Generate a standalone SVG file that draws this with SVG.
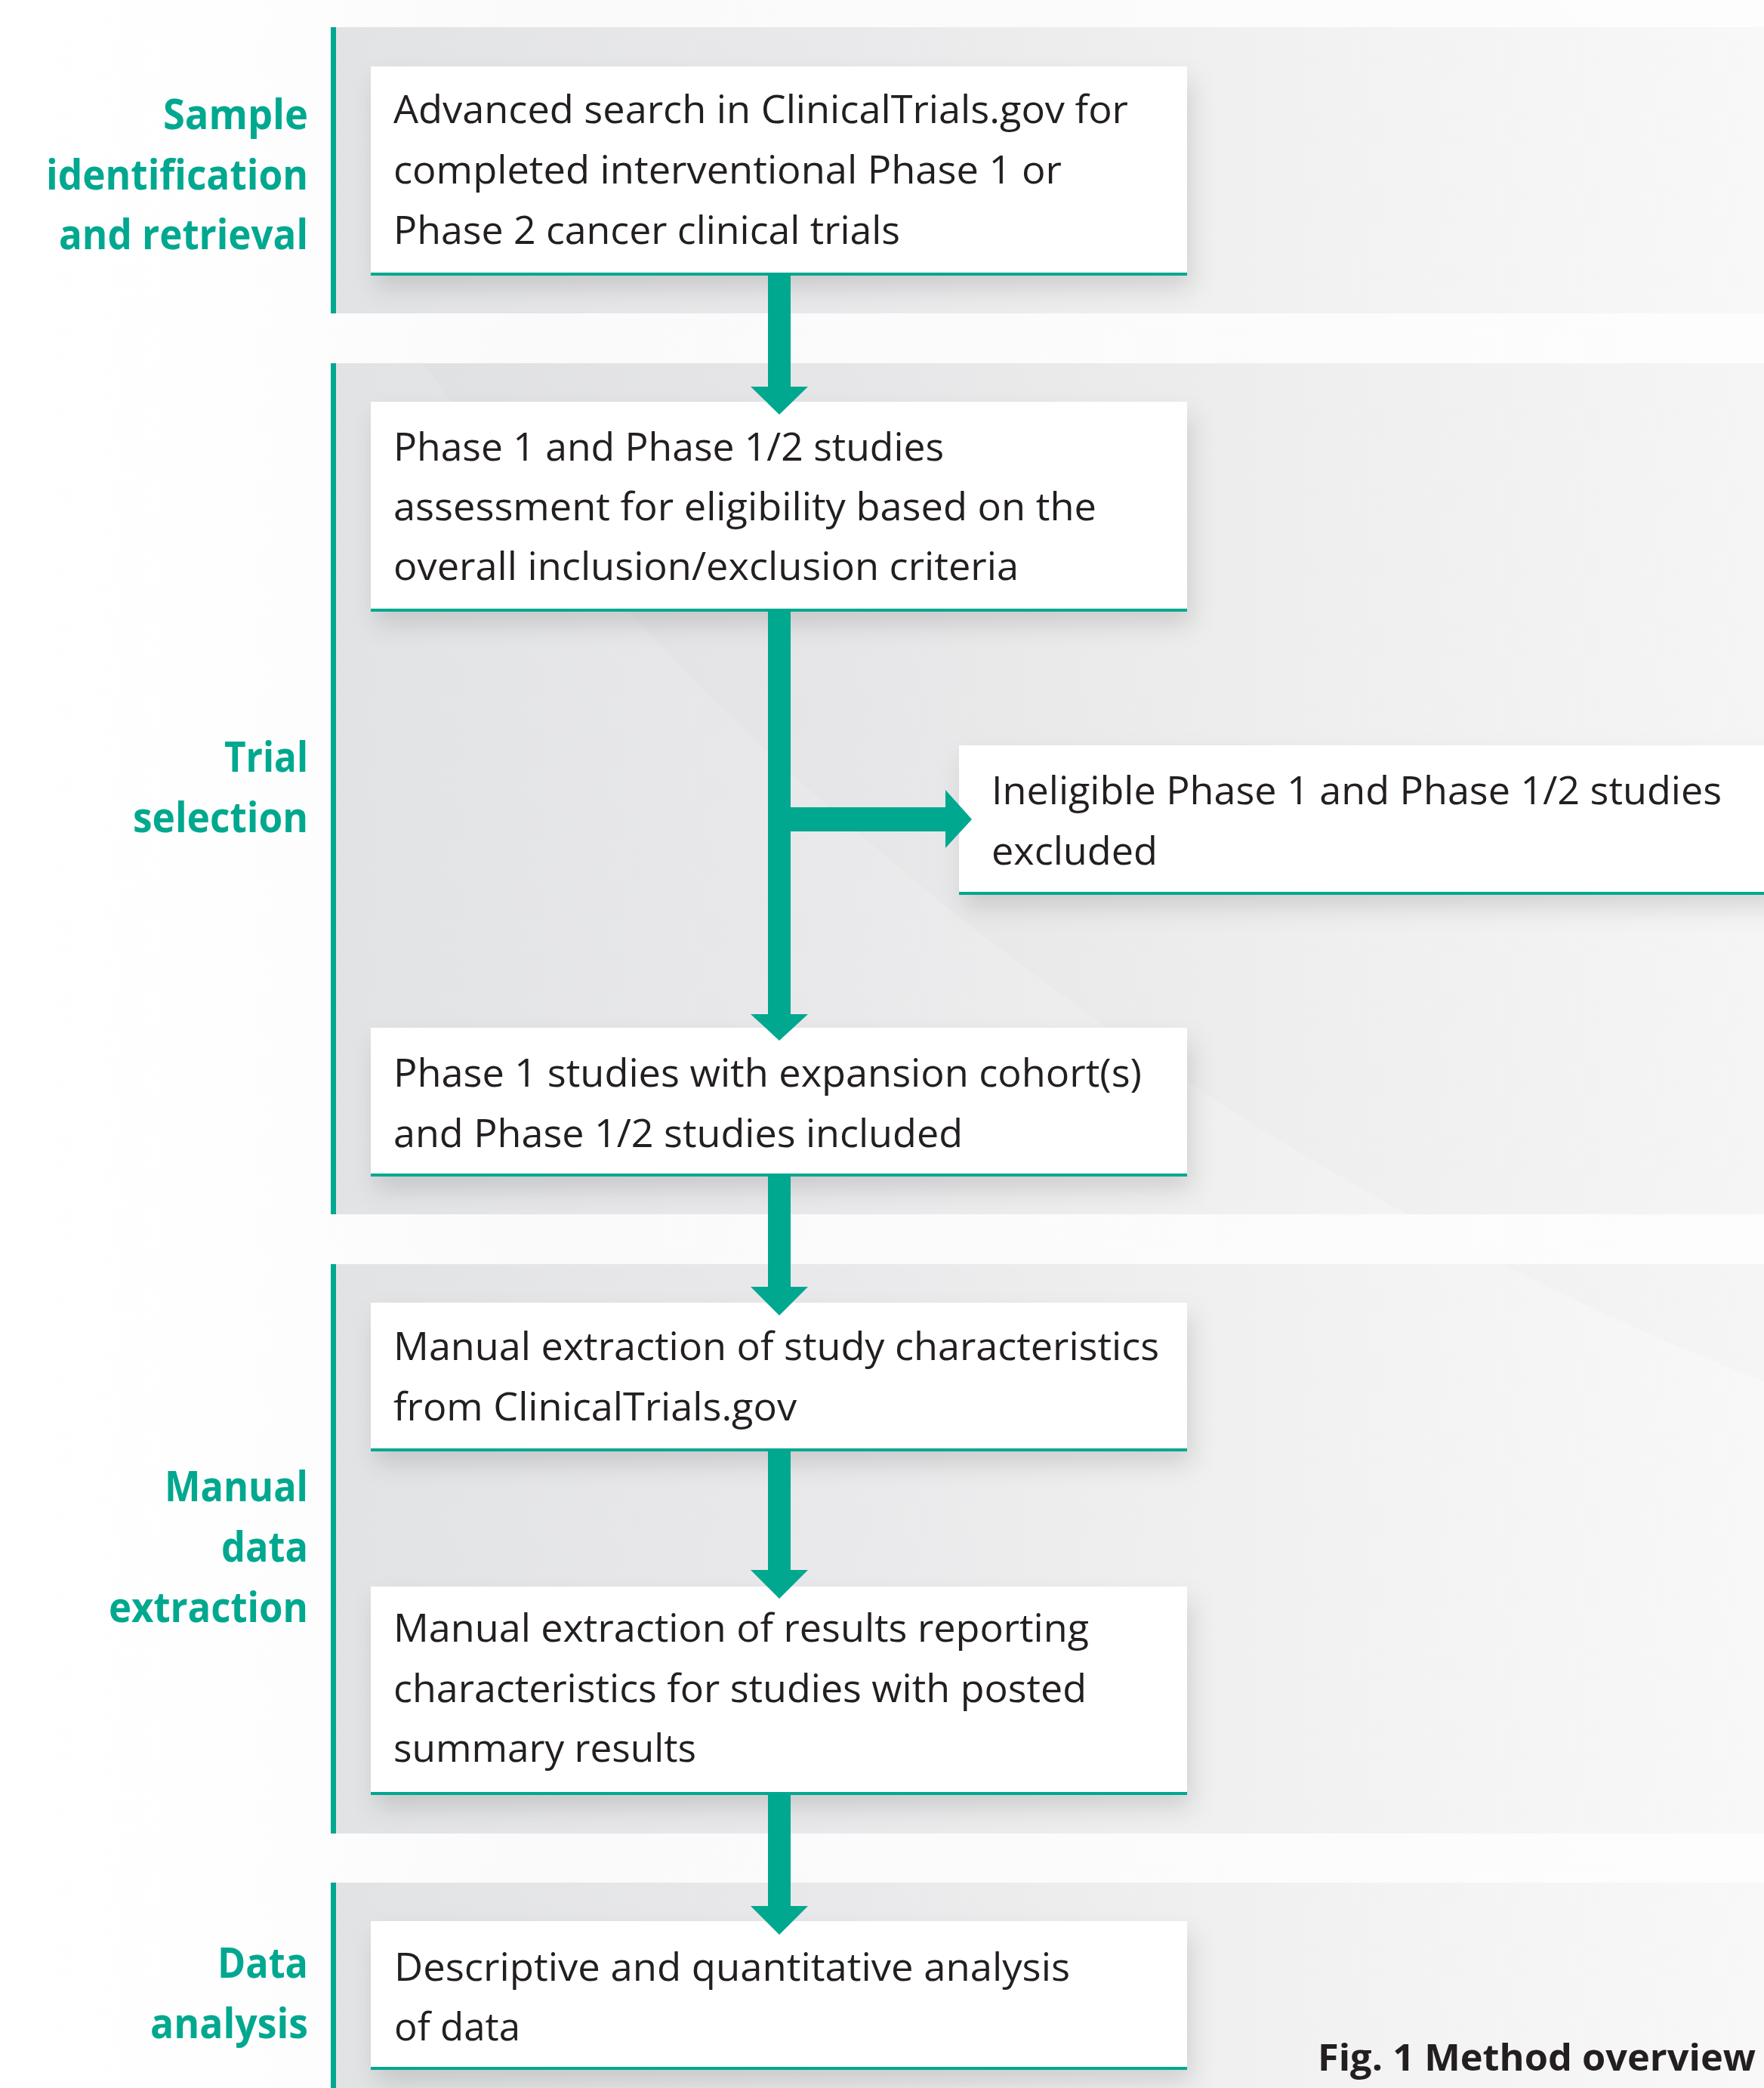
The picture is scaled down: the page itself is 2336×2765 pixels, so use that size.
<svg xmlns="http://www.w3.org/2000/svg" width="2336" height="2765" viewBox="0 0 2336 2765">
  <defs>
    <linearGradient id="bgGrad" x1="0" y1="0" x2="2336" y2="0" gradientUnits="userSpaceOnUse">
      <stop offset="0" stop-color="#ffffff"/>
      <stop offset="0.13" stop-color="#fefefe"/>
      <stop offset="0.3" stop-color="#fafafa"/>
      <stop offset="1" stop-color="#fdfdfd"/>
    </linearGradient>
    <linearGradient id="bandGrad" x1="441" y1="0" x2="2336" y2="0" gradientUnits="userSpaceOnUse">
      <stop offset="0" stop-color="#e2e3e5"/>
      <stop offset="0.35" stop-color="#e9e9eb"/>
      <stop offset="0.7" stop-color="#f2f2f2"/>
      <stop offset="1" stop-color="#f8f8f8"/>
    </linearGradient>
    <clipPath id="bandClip">
      <rect x="441" y="36" width="1895" height="379"/>
      <rect x="441" y="481" width="1895" height="1127"/>
      <rect x="441" y="1674" width="1895" height="754"/>
      <rect x="441" y="2493" width="1895" height="272"/>
    </clipPath>
    <filter id="shadow" x="-10%" y="-20%" width="130%" height="160%">
      <feDropShadow dx="6" dy="18" stdDeviation="16" flood-color="#000000" flood-opacity="0.13"/>
    </filter>
    <style>
      .band { fill: url(#bandGrad); }
      .rule { fill: #00a88f; }
      .box { fill: #ffffff; filter: url(#shadow); }
      .boxline { stroke: #00a88f; stroke-width: 4; fill: none; }
      .txt { font-family: "Open Sans", "Noto Sans", "Liberation Sans", sans-serif; font-size: 52px; fill: #231f20; }
      .lbl { font-family: "Open Sans", "Noto Sans", "Liberation Sans", sans-serif; font-weight: 700; font-size: 56px; fill: #00a88f; text-anchor: end; }
      .cap { font-family: "Open Sans", "Noto Sans", "Liberation Sans", sans-serif; font-weight: 700; font-size: 49px; fill: #231f20; }
      .arrow { fill: #00a88f; }
    </style>
  </defs>

  <!-- background -->
  <rect x="0" y="0" width="2336" height="2765" fill="url(#bgGrad)"/>
  <g id="bands">
    <rect class="band" x="441" y="36" width="1895" height="379"/>
    <rect class="band" x="441" y="481" width="1895" height="1127"/>
    <rect class="band" x="441" y="1674" width="1895" height="754"/>
    <rect class="band" x="441" y="2493" width="1895" height="272"/>
    <path d="M560,481 C900,950 1500,1500 2336,1830 L2336,481 Z" fill="#000000" opacity="0.012" clip-path="url(#bandClip)"/>
    <rect class="rule" x="438" y="36" width="7" height="379"/>
    <rect class="rule" x="438" y="481" width="7" height="1127"/>
    <rect class="rule" x="438" y="1674" width="7" height="754"/>
    <rect class="rule" x="438" y="2493" width="7" height="272"/>
  </g>

  <!-- section labels -->
  <g id="label-sample">
    <text class="lbl" x="408" y="171" textLength="192" lengthAdjust="spacingAndGlyphs">Sample</text>
    <text class="lbl" x="408" y="251" textLength="347" lengthAdjust="spacingAndGlyphs">identification</text>
    <text class="lbl" x="408" y="330" textLength="330" lengthAdjust="spacingAndGlyphs">and retrieval</text>
  </g>
  <g id="label-trial">
    <text class="lbl" x="408" y="1022" textLength="111" lengthAdjust="spacingAndGlyphs">Trial</text>
    <text class="lbl" x="408" y="1102" textLength="232" lengthAdjust="spacingAndGlyphs">selection</text>
  </g>
  <g id="label-extraction">
    <text class="lbl" x="408" y="1988" textLength="190" lengthAdjust="spacingAndGlyphs">Manual</text>
    <text class="lbl" x="408" y="2068" textLength="115" lengthAdjust="spacingAndGlyphs">data</text>
    <text class="lbl" x="408" y="2148" textLength="264" lengthAdjust="spacingAndGlyphs">extraction</text>
  </g>
  <g id="label-analysis">
    <text class="lbl" x="408" y="2619" textLength="120" lengthAdjust="spacingAndGlyphs">Data</text>
    <text class="lbl" x="408" y="2699" textLength="209" lengthAdjust="spacingAndGlyphs">analysis</text>
  </g>

  <!-- nodes -->
  <g id="node-search">
    <rect class="box" x="491" y="88" width="1081" height="276"/>
    <line class="boxline" x1="491" y1="363" x2="1572" y2="363"/>
    <text class="txt" x="521" y="163" textLength="973" lengthAdjust="spacingAndGlyphs">Advanced search in ClinicalTrials.gov for</text>
    <text class="txt" x="521" y="243" textLength="885" lengthAdjust="spacingAndGlyphs">completed interventional Phase 1 or</text>
    <text class="txt" x="521" y="323" textLength="671" lengthAdjust="spacingAndGlyphs">Phase 2 cancer clinical trials</text>
  </g>
  <g id="node-assessment">
    <rect class="box" x="491" y="532" width="1081" height="277"/>
    <line class="boxline" x1="491" y1="808" x2="1572" y2="808"/>
    <text class="txt" x="521" y="610" textLength="729" lengthAdjust="spacingAndGlyphs">Phase 1 and Phase 1/2 studies</text>
    <text class="txt" x="521" y="689" textLength="931" lengthAdjust="spacingAndGlyphs">assessment for eligibility based on the</text>
    <text class="txt" x="521" y="768" textLength="828" lengthAdjust="spacingAndGlyphs">overall inclusion/exclusion criteria</text>
  </g>
  <g id="node-excluded">
    <rect class="box" x="1270" y="987" width="1100" height="197"/>
    <line class="boxline" x1="1270" y1="1183" x2="2336" y2="1183"/>
    <text class="txt" x="1313" y="1065" textLength="967" lengthAdjust="spacingAndGlyphs">Ineligible Phase 1 and Phase 1/2 studies</text>
    <text class="txt" x="1313" y="1145" textLength="220" lengthAdjust="spacingAndGlyphs">excluded</text>
  </g>
  <g id="node-included">
    <rect class="box" x="491" y="1361" width="1081" height="196"/>
    <line class="boxline" x1="491" y1="1556" x2="1572" y2="1556"/>
    <text class="txt" x="521" y="1439" textLength="991" lengthAdjust="spacingAndGlyphs">Phase 1 studies with expansion cohort(s)</text>
    <text class="txt" x="521" y="1519" textLength="754" lengthAdjust="spacingAndGlyphs">and Phase 1/2 studies included</text>
  </g>
  <g id="node-characteristics">
    <rect class="box" x="491" y="1725" width="1081" height="196"/>
    <line class="boxline" x1="491" y1="1920" x2="1572" y2="1920"/>
    <text class="txt" x="521" y="1801" textLength="1014" lengthAdjust="spacingAndGlyphs">Manual extraction of study characteristics</text>
    <text class="txt" x="521" y="1881" textLength="534" lengthAdjust="spacingAndGlyphs">from ClinicalTrials.gov</text>
  </g>
  <g id="node-results">
    <rect class="box" x="491" y="2101" width="1081" height="275"/>
    <line class="boxline" x1="491" y1="2375" x2="1572" y2="2375"/>
    <text class="txt" x="521" y="2174" textLength="921" lengthAdjust="spacingAndGlyphs">Manual extraction of results reporting</text>
    <text class="txt" x="521" y="2254" textLength="918" lengthAdjust="spacingAndGlyphs">characteristics for studies with posted</text>
    <text class="txt" x="521" y="2333" textLength="401" lengthAdjust="spacingAndGlyphs">summary results</text>
  </g>
  <g id="node-analysis">
    <rect class="box" x="491" y="2544" width="1081" height="196"/>
    <line class="boxline" x1="491" y1="2739" x2="1572" y2="2739"/>
    <text class="txt" x="522" y="2623" textLength="895" lengthAdjust="spacingAndGlyphs">Descriptive and quantitative analysis</text>
    <text class="txt" x="522" y="2702" textLength="167" lengthAdjust="spacingAndGlyphs">of data</text>
  </g>

  <!-- connectors -->
  <g id="connectors">
    <path class="arrow" d="M1017,365 L1047,365 L1047,512 L1070,512 L1032,549 L994,512 L1017,512 Z"/>
    <path class="arrow" d="M1017,810 L1047,810 L1047,1069 L1252,1069 L1252,1046 L1287,1085 L1252,1123 L1252,1101 L1047,1101 L1047,1343 L1070,1343 L1032,1378 L994,1343 L1017,1343 Z"/>
    <path class="arrow" d="M1017,1558 L1047,1558 L1047,1704 L1070,1704 L1032,1742 L994,1704 L1017,1704 Z"/>
    <path class="arrow" d="M1017,1922 L1047,1922 L1047,2079 L1070,2079 L1032,2117 L994,2079 L1017,2079 Z"/>
    <path class="arrow" d="M1017,2377 L1047,2377 L1047,2524 L1070,2524 L1032,2562 L994,2524 L1017,2524 Z"/>
  </g>

  <!-- caption -->
  <text class="cap" x="1745" y="2742" textLength="580" lengthAdjust="spacingAndGlyphs">Fig. 1 Method overview</text>
</svg>
